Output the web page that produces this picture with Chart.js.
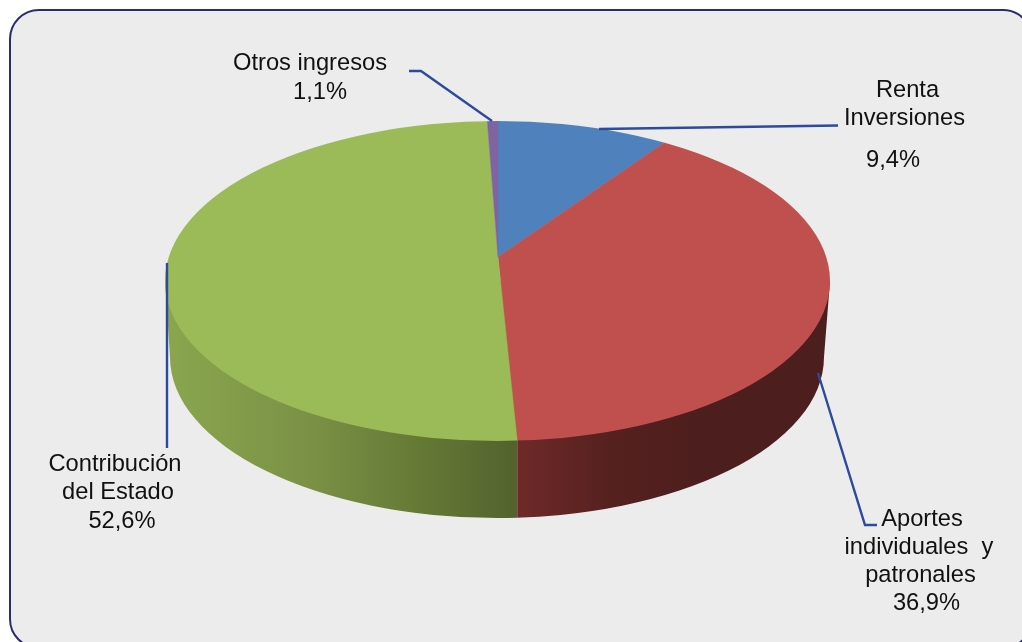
<!DOCTYPE html>
<html lang="es">
<head>
<meta charset="utf-8">
<title>Ingresos</title>
<script src="https://cdn.jsdelivr.net/npm/chart.js@4"></script>
<style>
    html, body { margin: 0; width: 1022px; height: 642px; overflow: hidden; background: #fff; }
    #panel {
        position: absolute; left: 9px; top: 9px; width: 1024px; height: 640px;
        box-sizing: border-box; background: #ececec;
        border: 2.5px solid #2b2b6f; border-radius: 30px;
    }
    #chart { position: absolute; left: 0; top: 0; }
</style>
</head>
<body>
<div id="panel"></div>
<canvas id="chart" width="1022" height="642"></canvas>
<script>
const categories = ["Renta Inversiones", "Aportes individuales y patronales", "Contribución del Estado", "Otros ingresos"];
// printed percentages, as they appear on the labels
const printedShares = ["9,4%", "36,9%", "52,6%", "1,1%"];
// shares of the pie as it is actually drawn in the picture: the 3D view does not
// give the wedges the same sizes as the printed numbers, so these are measured
const drawnShares = [9.7, 39.5, 50.2, 0.6];
const colors = ["#4f81bd", "#c0504d", "#9bbb59", "#8064a2"];

// one entry per category: text lines without the percentage
const labelLines = [["Renta", "Inversiones"], ["Aportes", "individuales  y", "patronales"], ["Contribución", "del Estado"], ["Otros ingresos"]];
// [centre x, baseline y] for each line, the percentage is the last one
const labelSpots = [
    [[907.5, 97], [904.5, 125], [893, 167]],
    [[922, 526], [919, 554], [920.5, 582], [926.5, 610]],
    [[115, 471], [118, 499], [122, 528]],
    [[310, 70], [320, 99]],
];
const leaders = [
    [[599, 129], [838, 125.5]],
    [[818, 373], [865, 525], [877, 525]],
    [[167, 263], [167, 448]],
    [[409, 71], [421, 71], [492, 121]],
];

// top face, bottom face and the point where the wedges meet
const top3d = { x: 497.5, y: 281, rx: 332.5, ry: 160 };
const bottom3d = { x: 497, y: 357, rx: 327, ry: 161 };
const apex = { x: 498, y: 257, sx: 417, sy: 200 };

function sideBoundaryX(angle) {
    // where the wedge edge leaves the top ellipse
    const dx = Math.cos(angle) * apex.sx, dy = Math.sin(angle) * apex.sy;
    const ox = (apex.x - top3d.x) / top3d.rx, oy = (apex.y - top3d.y) / top3d.ry;
    const ux = dx / top3d.rx, uy = dy / top3d.ry;
    const a = ux * ux + uy * uy, b = 2 * (ox * ux + oy * uy), c = ox * ox + oy * oy - 1;
    const t = (-b + Math.sqrt(b * b - 4 * a * c)) / (2 * a);
    return apex.x + dx * t;
}

function drawSide(ctx, splitX) {
    const outline = () => {
        ctx.beginPath();
        ctx.moveTo(top3d.x - top3d.rx, top3d.y);
        ctx.lineTo(bottom3d.x - bottom3d.rx, bottom3d.y);
        ctx.ellipse(bottom3d.x, bottom3d.y, bottom3d.rx, bottom3d.ry, 0, Math.PI, 0, true);
        ctx.lineTo(top3d.x + top3d.rx, top3d.y);
        ctx.closePath();
    };

    const green = ctx.createLinearGradient(165, 0, splitX, 0);
    green.addColorStop(0, "#8aa64e");
    green.addColorStop(0.4, "#7b9246");
    green.addColorStop(0.75, "#637734");
    green.addColorStop(1, "#53622e");

    const red = ctx.createLinearGradient(splitX, 0, 830, 0);
    red.addColorStop(0, "#6e2a29");
    red.addColorStop(0.3, "#55211f");
    red.addColorStop(0.6, "#4c1e1d");
    red.addColorStop(1, "#4c1e1d");

    ctx.save();
    ctx.beginPath();
    ctx.rect(0, 0, splitX, 642);
    ctx.clip();
    outline();
    ctx.fillStyle = green;
    ctx.fill();
    ctx.restore();

    ctx.save();
    ctx.beginPath();
    ctx.rect(splitX, 0, 1022 - splitX, 642);
    ctx.clip();
    outline();
    ctx.fillStyle = red;
    ctx.fill();
    ctx.restore();
}

const pie3d = {
    id: "pie3d",
    beforeDatasetsDraw(chart) {
        const ctx = chart.ctx;
        const arcs = chart.getDatasetMeta(0).data;
        drawSide(ctx, sideBoundaryX(arcs[1].endAngle));

        const r = arcs[0].outerRadius;
        ctx.save();
        ctx.beginPath();
        ctx.ellipse(top3d.x, top3d.y, top3d.rx, top3d.ry, 0, 0, Math.PI * 2);
        ctx.clip();
        ctx.translate(apex.x, apex.y);
        ctx.scale(apex.sx / r, apex.sy / r);
        ctx.translate(-arcs[0].x, -arcs[0].y);
    },
    afterDatasetsDraw(chart) {
        const ctx = chart.ctx;
        ctx.restore();

        ctx.strokeStyle = "#2c4a9e";
        ctx.lineWidth = 2.4;
        ctx.lineJoin = "miter";
        leaders.forEach(points => {
            ctx.beginPath();
            points.forEach(([x, y], i) => (i ? ctx.lineTo(x, y) : ctx.moveTo(x, y)));
            ctx.stroke();
        });

        ctx.fillStyle = "#111";
        ctx.font = '23.7px "Liberation Sans", Arial, sans-serif';
        ctx.textAlign = "center";
        ctx.textBaseline = "alphabetic";
        categories.forEach((_, i) => {
            const lines = [...labelLines[i], printedShares[i]];
            lines.forEach((text, j) => ctx.fillText(text, labelSpots[i][j][0], labelSpots[i][j][1]));
        });
    },
};

new Chart(document.getElementById("chart"), {
    type: "pie",
    data: {
        labels: categories,
        datasets: [{
            data: drawnShares,
            backgroundColor: colors,
            borderColor: colors,
            borderWidth: 0.5,
            clip: false,
        }],
    },
    options: {
        responsive: false,
        animation: false,
        devicePixelRatio: 1,
        plugins: { legend: { display: false }, tooltip: { enabled: false } },
    },
    plugins: [pie3d],
});
</script>
</body>
</html>
